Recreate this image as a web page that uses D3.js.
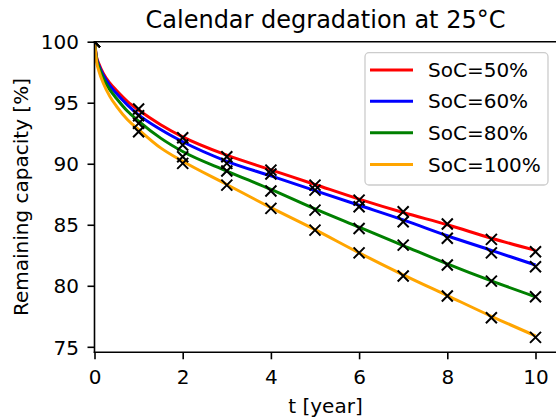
<!DOCTYPE html>
<html>
<head>
<meta charset="utf-8">
<script src="https://cdn.jsdelivr.net/npm/d3@7"></script>
<style>
  html, body { margin: 0; padding: 0; background: #fff; }
  svg { display: block; font-family: "DejaVu Sans", sans-serif; }
</style>
</head>
<body>
<svg id="chart" width="556" height="419"></svg>
<script>
// ---- data ----
const seriesNames = ["SoC=50%", "SoC=60%", "SoC=80%", "SoC=100%"];
const seriesColors = ["#ff0000", "#0000ff", "#008000", "#ffa500"];

// model curves
const curveT = [0, 0.05, 0.1, 0.2, 0.35, 0.5, 0.75, 1, 1.5, 2, 3, 4, 5, 6, 7, 8, 9, 10];
const curve50  = [100, 98.7, 98.2, 97.4, 96.6, 96.0, 95.1, 94.4, 93.2, 92.2, 90.7, 89.5, 88.3, 87.1, 86.0, 85.0, 83.9, 82.9];
const curve60  = [100, 98.6, 98.05, 97.25, 96.4, 95.75, 94.8, 94.0, 92.8, 91.8, 90.2, 89.0, 87.8, 86.6, 85.4, 84.1, 82.9, 81.7];
const curve80  = [100, 98.5, 97.9, 97.0, 96.05, 95.35, 94.3, 93.5, 92.1, 91.0, 89.4, 87.9, 86.3, 84.8, 83.3, 81.8, 80.4, 79.1];
const curve100 = [100, 98.3, 97.6, 96.6, 95.5, 94.7, 93.6, 92.8, 91.3, 90.2, 88.3, 86.4, 84.6, 82.7, 80.9, 79.2, 77.5, 75.9];

// measured points (x markers)
const measT = [0, 1, 2, 3, 4, 5, 6, 7, 8, 9, 10];
const meas50  = [100, 94.48, 92.13, 90.57, 89.48, 88.25, 87.02, 86.07, 85.06, 83.80, 82.79];
const meas60  = [100, 93.93, 91.53, 90.03, 89.16, 87.84, 86.48, 85.25, 83.89, 82.70, 81.56];
const meas80  = [100, 93.31, 90.57, 89.40, 87.76, 86.20, 84.70, 83.33, 81.70, 80.38, 79.10];
const meas100 = [100, 92.62, 90.03, 88.25, 86.34, 84.56, 82.70, 80.80, 79.16, 77.38, 75.77];

const xTicks = [0, 2, 4, 6, 8, 10];
const yTicks = [75, 80, 85, 90, 95, 100];

const titleText = "Calendar degradation at 25°C";
const xLabel = "t [year]";
const yLabel = "Remaining capacity [%]";

// ---- layout ----
const svg = d3.select("#chart");
const L = 94.5, T = 41.7, B = 352.3;
const x = d3.scaleLinear().domain([0, 10.5]).range([L, L + 10.5 * 44.1]);
const y = d3.scaleLinear().domain([74.55, 100]).range([B, T]);
const R = x.range()[1];
const FS = 20;

svg.append("defs").append("clipPath").attr("id", "clip")
  .append("rect").attr("x", L).attr("y", T).attr("width", R - L).attr("height", B - T);

const curves = [curve50, curve60, curve80, curve100];
const meas = [meas50, meas60, meas80, meas100];

const plot = svg.append("g").attr("clip-path", "url(#clip)");
const line = d3.line().x(d => x(d[0])).y(d => y(d[1])).curve(d3.curveMonotoneX);

curves.forEach((c, i) => {
  plot.append("path")
    .datum(curveT.map((t, j) => [t, c[j]]))
    .attr("d", line)
    .attr("fill", "none")
    .attr("stroke", seriesColors[i])
    .attr("stroke-width", 3)
    .attr("stroke-linejoin", "round")
    .attr("stroke-linecap", "butt");
});

const ms = 5.5;
meas.forEach((m) => {
  plot.append("g").selectAll("path")
    .data(measT.map((t, j) => [t, m[j]]))
    .join("path")
    .attr("d", d => {
      const cx = x(d[0]), cy = y(d[1]);
      return `M${cx - ms},${cy - ms}L${cx + ms},${cy + ms}M${cx - ms},${cy + ms}L${cx + ms},${cy - ms}`;
    })
    .attr("stroke", "#000")
    .attr("stroke-width", 2)
    .attr("fill", "none");
});

// ---- axes ----
const xAxis = svg.append("g").attr("transform", `translate(0,${B})`)
  .call(d3.axisBottom(x).tickValues(xTicks).tickFormat(d3.format("d")).tickSize(7).tickSizeOuter(0));
const yAxis = svg.append("g").attr("transform", `translate(${L},0)`)
  .call(d3.axisLeft(y).tickValues(yTicks).tickFormat(d3.format("d")).tickSize(7).tickSizeOuter(0).tickPadding(8.5));

[xAxis, yAxis].forEach(a => {
  a.select(".domain").remove();
  a.selectAll(".tick line").attr("stroke", "#000").attr("stroke-width", 1.6);
  a.selectAll(".tick text").attr("fill", "#000").style("font-size", FS + "px").style("font-family", "DejaVu Sans");
});
xAxis.selectAll(".tick text").attr("y", 31.7).attr("dy", "0");
yAxis.selectAll(".tick text").attr("dy", "0.36em");

// spines
const sp = svg.append("g").attr("stroke", "#000").attr("stroke-width", 1.6).attr("fill", "none");
sp.append("line").attr("x1", L).attr("x2", L).attr("y1", T).attr("y2", B).attr("stroke-linecap", "square");
sp.append("line").attr("x1", L).attr("x2", R).attr("y1", B).attr("y2", B).attr("stroke-linecap", "square");
sp.append("line").attr("x1", L).attr("x2", R).attr("y1", T).attr("y2", T).attr("stroke-linecap", "square");
sp.append("line").attr("x1", R).attr("x2", R).attr("y1", T).attr("y2", B);

// title & labels
svg.append("text").attr("x", 325.5).attr("y", 27.7).attr("text-anchor", "middle")
  .style("font-size", "24px").attr("fill", "#000").text(titleText);
svg.append("text").attr("x", 325.5).attr("y", 412.5).attr("text-anchor", "middle")
  .style("font-size", FS + "px").attr("fill", "#000").text(xLabel);
svg.append("text").attr("transform", `translate(28,${(T + B) / 2}) rotate(-90)`).attr("text-anchor", "middle")
  .style("font-size", FS + "px").attr("fill", "#000").text(yLabel);

// legend
const lg = svg.append("g");
lg.append("rect").attr("x", 365).attr("y", 52.7).attr("width", 183).attr("height", 132.3)
  .attr("rx", 4).attr("ry", 4)
  .attr("fill", "#fff").attr("fill-opacity", 0.8).attr("stroke", "#cccccc").attr("stroke-width", 1.3);
const legY = [70, 101.2, 132.7, 164.5];
seriesNames.forEach((n, i) => {
  lg.append("line").attr("x1", 370).attr("x2", 413).attr("y1", legY[i]).attr("y2", legY[i])
    .attr("stroke", seriesColors[i]).attr("stroke-width", 3);
  lg.append("text").attr("x", 428).attr("y", legY[i]).attr("dy", "0.36em")
    .style("font-size", FS + "px").attr("fill", "#000").text(n);
});
</script>
</body>
</html>
